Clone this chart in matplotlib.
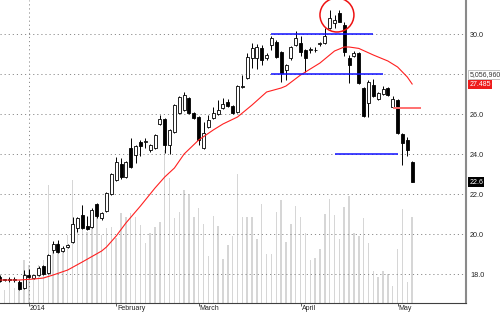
import matplotlib
matplotlib.use('Agg')
import matplotlib.pyplot as plt
from matplotlib.patches import Ellipse
from matplotlib.transforms import blended_transform_factory
import numpy as np

plt.rcParams['font.family'] = ['Liberation Sans', 'DejaVu Sans']

# ── daily candles ───────────────────────────────────────────────────────────
opens = [17.85, 17.70, 17.70, 17.70, 17.60, 17.30, 17.95, 17.80, 17.95, 18.40,
         18.05, 19.20, 19.50, 19.15, 19.35, 19.60, 20.30, 20.95, 20.40, 20.35,
         21.50, 20.80, 21.15, 22.00, 22.70, 23.50, 22.85, 24.30, 23.95, 24.60,
         24.60, 24.20, 24.30, 25.50, 25.75, 24.45, 25.10, 26.05, 26.20, 26.80,
         26.05, 25.85, 24.30, 25.35, 25.80, 26.00, 26.30, 26.60, 26.40, 26.10,
         27.35, 27.80, 28.80, 28.80, 29.30, 28.80, 29.45, 29.60, 29.10, 28.20,
         28.80, 29.45, 29.55, 29.20, 29.20, 29.20, 29.50, 29.55, 30.30, 30.55,
         31.05, 30.45, 28.80, 28.90, 29.05, 27.30, 26.55, 27.45, 26.75, 27.00,
         27.30, 26.35, 26.70, 25.00, 24.70, 23.60]
highs = [17.95, 17.75, 17.85, 17.85, 17.70, 18.20, 18.25, 17.95, 18.40, 18.45,
         19.00, 19.65, 19.70, 19.40, 19.50, 20.85, 20.85, 21.45, 20.90, 21.30,
         21.55, 21.10, 22.10, 23.05, 23.85, 23.80, 23.65, 24.80, 24.45, 24.70,
         24.80, 24.50, 25.00, 25.95, 25.80, 25.25, 26.50, 26.90, 27.10, 26.85,
         26.10, 25.90, 25.60, 25.95, 26.35, 26.70, 26.80, 26.75, 26.45, 27.45,
         27.95, 29.05, 29.55, 29.50, 29.45, 29.05, 29.90, 29.70, 29.15, 28.50,
         29.40, 30.15, 29.90, 29.25, 29.35, 29.35, 29.60, 30.30, 31.20, 30.95,
         31.20, 30.60, 28.95, 29.15, 29.10, 27.35, 27.70, 27.75, 27.10, 27.40,
         27.35, 26.90, 26.75, 25.05, 24.85, 23.65]
lows = [17.60, 17.65, 17.60, 17.60, 17.20, 17.25, 17.80, 17.75, 17.90, 17.95,
        18.00, 19.05, 19.05, 19.10, 19.30, 19.55, 20.10, 20.25, 20.20, 20.30,
        20.80, 20.70, 21.10, 21.95, 22.65, 22.75, 22.80, 23.30, 23.55, 23.90,
        24.30, 24.10, 24.25, 25.45, 24.05, 24.00, 25.05, 26.00, 26.15, 26.00,
        25.75, 24.45, 24.25, 25.30, 25.75, 25.95, 26.25, 26.35, 26.00, 26.05,
        27.30, 27.75, 28.30, 28.25, 28.45, 28.70, 29.20, 28.80, 27.60, 27.70,
        28.70, 29.40, 28.90, 28.10, 29.05, 29.10, 29.40, 29.50, 30.25, 30.30,
        30.60, 28.90, 27.55, 28.85, 27.50, 25.85, 25.85, 26.85, 26.70, 26.95,
        26.90, 26.30, 25.00, 23.45, 23.90, 22.60]
closes = [17.65, 17.72, 17.72, 17.72, 17.25, 17.95, 17.85, 17.95, 18.30, 18.00,
          18.95, 19.50, 19.10, 19.30, 19.45, 20.50, 20.80, 20.30, 20.25, 21.20,
          20.90, 21.05, 22.05, 23.00, 23.60, 22.85, 23.60, 23.35, 24.40, 24.40,
          24.62, 24.45, 24.95, 25.75, 24.45, 25.20, 26.45, 26.85, 26.95, 26.05,
          25.80, 24.70, 25.05, 25.70, 26.05, 26.20, 26.50, 26.40, 26.05, 27.40,
          27.38, 28.85, 29.30, 29.35, 28.70, 28.95, 29.80, 28.85, 28.05, 28.45,
          29.35, 29.80, 29.10, 28.80, 29.22, 29.18, 29.52, 29.90, 30.80, 30.70,
          30.60, 29.10, 28.45, 29.05, 27.55, 25.90, 27.60, 26.90, 27.05, 27.25,
          26.95, 26.75, 25.05, 24.55, 24.20, 22.60]
# volume, millions of shares
volume = [0.59, 0.76, 1.18, 0.88, 1.24, 2.53, 2.24, 1.65, 2.24, 2.53,
          6.94, 3.12, 3.53, 3.24, 4.00, 7.24, 5.06, 5.76, 4.18, 4.71,
          5.35, 4.00, 4.41, 4.47, 3.82, 5.29, 5.06, 5.29, 5.06, 4.59,
          3.53, 4.12, 4.47, 4.76, 9.00, 7.35, 5.00, 5.35, 6.65, 6.35,
          5.06, 5.59, 4.65, 2.76, 5.12, 4.53, 2.59, 3.41, 3.94, 7.59,
          5.06, 5.06, 5.04, 3.76, 5.82, 2.88, 2.88, 5.35, 6.06, 3.59,
          4.65, 5.71, 5.04, 4.12, 2.53, 2.63, 3.18, 5.24, 6.12, 5.18,
          3.76, 5.65, 6.29, 4.12, 3.94, 5.00, 3.53, 1.88, 1.53, 1.86,
          1.69, 1.00, 3.16, 5.53, 1.24, 5.057]

# moving average (red curve), sampled at candle index
ma_idx = [0, 4, 7, 9, 11, 14, 17, 21, 22, 24, 26, 29, 32, 34, 36, 38, 41, 44,
          46, 49, 52, 55, 58, 59, 62, 66, 69, 71, 72, 74, 77, 80, 82, 84, 85]
ma_val = [17.70, 17.70, 17.75, 17.80, 17.95, 18.20, 18.60, 19.15, 19.35, 19.90,
          20.55, 21.40, 22.30, 22.85, 23.30, 24.00, 24.70, 25.20, 25.50, 25.85,
          26.45, 27.10, 27.30, 27.40, 27.95, 28.55, 29.15, 29.35, 29.35, 29.28,
          28.95, 28.65, 28.35, 27.85, 27.50]

# hand-drawn annotations: support / resistance levels
lvl_start = [56, 56, 69]
lvl_end = [77, 79, 82]
lvl_price = [30.0, 28.0, 24.0]

month_idx = [6, 24, 41, 62, 82]
month_lbl = ['2014', 'February', 'March', 'April', 'May']
yticks = [18, 20, 22, 24, 26, 30]

last_vol = '5,056,960'
last_ma = 27.485
last_close = 22.6

# ── figure ───────────────────────────────────────────────────────────────────
fig = plt.figure(figsize=(5, 3.12), dpi=100)
fig.patch.set_facecolor('white')
pos = [0, 0.0288, 0.932, 0.9712]
XL = (0.05, 96.1)

axv = fig.add_axes(pos)
axv.set_xlim(*XL)
axv.set_ylim(0, 303 / 17)
axv.axis('off')
x = np.arange(len(closes))
axv.bar(x, volume, width=0.3, color='#d6d6d6', linewidth=0)

ax = fig.add_axes(pos)
ax.set_facecolor('none')
ax.set_xlim(*XL)
ax.set_ylim(16.55, 31.7)

for yv in [18, 20, 22, 24, 26, 28, 30]:
    ax.axhline(yv, color='#8c8c8c', lw=0.7, ls=(0, (1.2, 3)), zorder=0.5)
ax.axvline(month_idx[0], color='#8c8c8c', lw=0.7, ls=(0, (1.2, 3)), zorder=0.5)

o = np.array(opens); c = np.array(closes)
up = c >= o
ax.vlines(x, lows, highs, color='black', lw=0.7, zorder=2)
body_b = np.minimum(o, c)
body_h = np.maximum(np.abs(c - o), 0.03)
ax.bar(x[up], body_h[up], bottom=body_b[up], width=0.62, color='white',
       edgecolor='black', linewidth=0.6, zorder=3)
ax.bar(x[~up], body_h[~up], bottom=body_b[~up], width=0.62, color='black',
       edgecolor='black', linewidth=0.6, zorder=3)

ax.plot(ma_idx, ma_val, color='#ff2020', lw=0.8, zorder=4)

ax.hlines(lvl_price, lvl_start, lvl_end, color='#1010ff', lw=1.1, zorder=5)
ax.hlines(26.3, 81, 86.8, color='#ff7070', lw=1.4, zorder=5)
ax.add_patch(Ellipse((69.5, 30.95), 7.0, 1.7, fill=False, edgecolor='#ee1111',
                     lw=1.1, zorder=6, clip_on=False))

# axes frame
for s in ['top', 'left']:
    ax.spines[s].set_visible(False)
ax.spines['right'].set_color('#8a8a8a')
ax.spines['right'].set_linewidth(1.5)
ax.spines['bottom'].set_color('#404040')
ax.spines['bottom'].set_linewidth(0.8)

ax.yaxis.tick_right()
ax.set_yticks(yticks)
ax.set_yticklabels([f'{v:.1f}' for v in yticks])
ax.tick_params(axis='y', length=0, pad=3, labelsize=5.2, labelcolor='#222222')

ax.set_xticks(month_idx)
ax.set_xticklabels([])
ax.tick_params(axis='x', length=2.5, width=0.6, color='#404040', direction='out')
tr = blended_transform_factory(ax.transData, ax.transAxes)
for mi, ml in zip(month_idx, month_lbl):
    ax.text(mi + 0.2, -0.008, ml, transform=tr, ha='left', va='top',
            fontsize=5.0, color='#222222')

# last-value tags on the price scale
trr = blended_transform_factory(ax.transAxes, ax.transData)
ax.text(1.007, 27.98, last_vol, transform=trr, ha='left', va='center',
        fontsize=5.0, color='#333333', clip_on=False,
        bbox=dict(boxstyle='square,pad=0.15', fc='white', ec='#aaaaaa', lw=0.5))
ax.text(1.007, last_ma, f'{last_ma:.3f}', transform=trr, ha='left', va='center',
        fontsize=5.0, color='white', clip_on=False,
        bbox=dict(boxstyle='square,pad=0.15', fc='#ee1c1c', ec='none'))
ax.text(1.007, last_close, f'{last_close:.1f}', transform=trr, ha='left',
        va='center', fontsize=5.0, color='white', clip_on=False,
        bbox=dict(boxstyle='square,pad=0.15', fc='black', ec='none'))

plt.savefig('out.png', dpi=100, facecolor='white')
plt.close()
